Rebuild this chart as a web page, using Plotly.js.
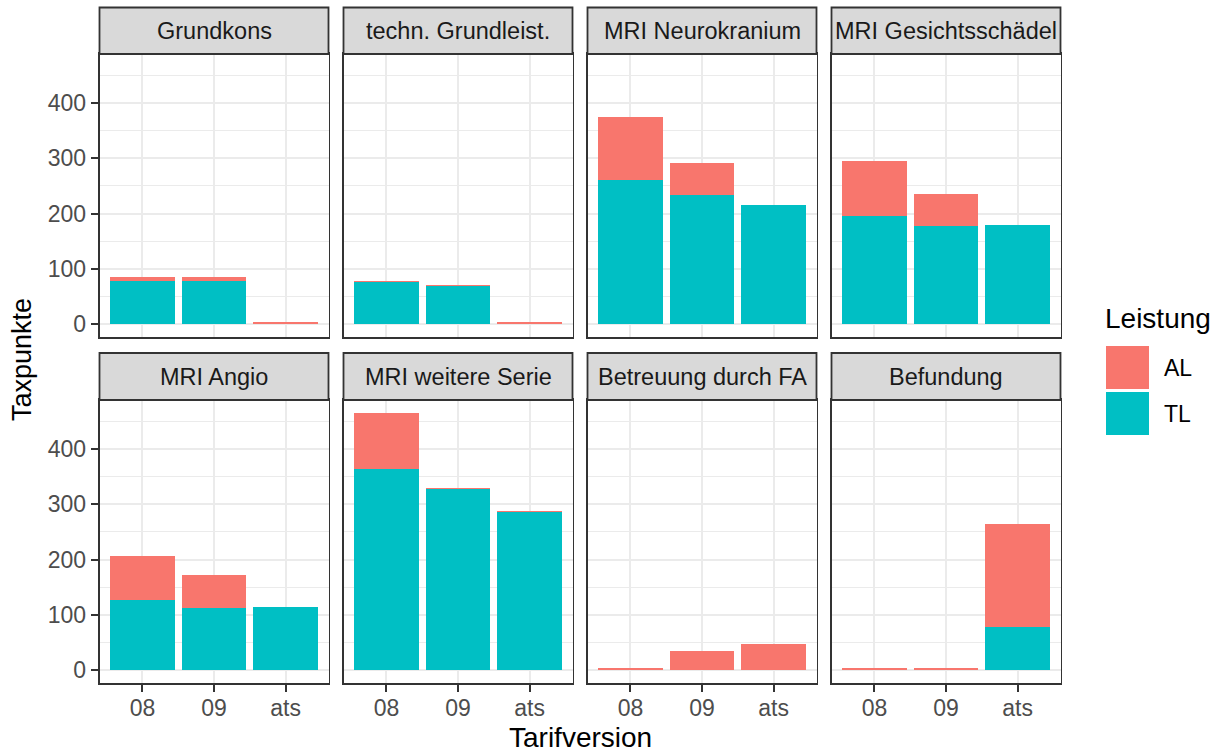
<!DOCTYPE html>
<html>
<head>
<meta charset="utf-8">
<script src="https://cdn.plot.ly/plotly-3.0.1.min.js"></script>
<style>
  html, body { margin: 0; padding: 0; background: #ffffff; }
  #chart { width: 1222px; height: 753px; }
</style>
</head>
<body>
<div id="chart"></div>
<script>
// Tariff versions on the x axis of every facet
const tarifversion = ['08', '09', 'ats'];

// Facet titles (Leistungsposition), in row-major order
const positionen = [
  'Grundkons', 'techn. Grundleist.', 'MRI Neurokranium', 'MRI Gesichtsschädel',
  'MRI Angio', 'MRI weitere Serie', 'Betreuung durch FA', 'Befundung'
];

// Taxpunkte per position and tariff version: technical part (TL)
const tlGrundkons   = [78, 78, 0];
const tlTechn       = [76, 68.5, 0];
const tlNeuro       = [260, 233, 215];
const tlGesicht     = [195, 177, 179];
const tlAngio       = [126, 113, 114];
const tlWeitere     = [364, 328, 287];
const tlBetreuung   = [0, 0, 0];
const tlBefundung   = [0, 0, 78];

// Taxpunkte per position and tariff version: medical part (AL)
const alGrundkons   = [6.5, 7, 3];
const alTechn       = [2, 2.5, 3];
const alNeuro       = [115, 59, 1.2];
const alGesicht     = [101, 59, 1.2];
const alAngio       = [81, 60, 1];
const alWeitere     = [101, 2, 1.3];
const alBetreuung   = [3, 35.5, 48];
const alBefundung   = [3, 3, 187];

const tlSeries = [tlGrundkons, tlTechn, tlNeuro, tlGesicht, tlAngio, tlWeitere, tlBetreuung, tlBefundung];
const alSeries = [alGrundkons, alTechn, alNeuro, alGesicht, alAngio, alWeitere, alBetreuung, alBefundung];

const yTicks = [0, 100, 200, 300, 400];

const COL_AL = '#F8766D';
const COL_TL = '#00BFC4';
const FONT = 'Liberation Sans, Arial, Helvetica, sans-serif';

// Page geometry (pixels)
const W = 1222, H = 753;
const panelLeft = [99.5, 343.5, 587.5, 831.5];
const panelW = 229;
const rows = [
  { stripTop: 7.5, panelTop: 54, panelBottom: 337 },
  { stripTop: 353, panelTop: 400, panelBottom: 683 }
];
const px = v => v / W;
const py = v => 1 - v / H;

const traces = [];
const layout = {
  width: W, height: H,
  margin: { l: 0, r: 0, t: 0, b: 0 },
  paper_bgcolor: '#ffffff',
  plot_bgcolor: '#ffffff',
  barmode: 'stack',
  bargap: 0.1,
  showlegend: false,
  font: { family: FONT, color: '#4D4D4D', size: 23 },
  shapes: [],
  annotations: []
};

positionen.forEach((name, i) => {
  const r = Math.floor(i / 4), c = i % 4;
  const row = rows[r];
  const n = i + 1;
  const xa = 'x' + (n === 1 ? '' : n);
  const ya = 'y' + (n === 1 ? '' : n);

  traces.push({
    type: 'bar', x: tarifversion, y: tlSeries[i], name: 'TL',
    xaxis: xa, yaxis: ya, marker: { color: COL_TL, line: { width: 0 } },
    hoverinfo: 'x+y+name'
  });
  traces.push({
    type: 'bar', x: tarifversion, y: alSeries[i], name: 'AL',
    xaxis: xa, yaxis: ya, marker: { color: COL_AL, line: { width: 0 } },
    hoverinfo: 'x+y+name'
  });

  const isBottom = r === 1;
  const isLeft = c === 0;

  layout['xaxis' + (n === 1 ? '' : n)] = {
    domain: [px(panelLeft[c]), px(panelLeft[c] + panelW)],
    anchor: ya,
    type: 'category',
    categoryorder: 'array',
    categoryarray: tarifversion,
    range: [-0.6, 2.6],
    showgrid: true, gridcolor: '#EBEBEB', gridwidth: 2,
    zeroline: false,
    showline: true, mirror: true, linecolor: '#333333', linewidth: 1.8,
    ticks: isBottom ? 'outside' : '', ticklen: 7, tickwidth: 2, tickcolor: '#333333',
    showticklabels: isBottom,
    ticklabelstandoff: -3,
    tickfont: { family: FONT, size: 23, color: '#4D4D4D' },
    automargin: false, fixedrange: true
  };
  layout['yaxis' + (n === 1 ? '' : n)] = {
    domain: [py(row.panelBottom), py(row.panelTop)],
    anchor: xa,
    range: [-23.3, 488.8],
    tickmode: 'array', tickvals: yTicks, ticktext: yTicks.map(String),
    showgrid: true, gridcolor: '#EBEBEB', gridwidth: 2,
    minor: { dtick: 50, tick0: 0, showgrid: true, gridcolor: '#EBEBEB', gridwidth: 1, ticks: '' },
    zeroline: false,
    showline: true, mirror: true, linecolor: '#333333', linewidth: 1.8,
    ticks: isLeft ? 'outside' : '', ticklen: 7, tickwidth: 2, tickcolor: '#333333',
    showticklabels: isLeft,
    tickfont: { family: FONT, size: 23, color: '#4D4D4D' },
    automargin: false, fixedrange: true
  };

  // facet strip
  layout.shapes.push({
    type: 'rect', xref: 'paper', yref: 'paper', layer: 'above',
    x0: px(panelLeft[c]), x1: px(panelLeft[c] + panelW),
    y0: py(row.panelTop), y1: py(row.stripTop),
    fillcolor: '#D9D9D9', line: { color: '#333333', width: 1.8 }
  });
  layout.annotations.push({
    xref: 'paper', yref: 'paper',
    x: px(panelLeft[c] + panelW / 2), y: py((row.stripTop + row.panelTop) / 2),
    xanchor: 'center', yanchor: 'middle', showarrow: false,
    text: name, font: { family: FONT, size: 23.5, color: '#1A1A1A' }
  });
});

// axis titles
layout.annotations.push({
  xref: 'paper', yref: 'paper', x: px(580), y: py(737),
  xanchor: 'center', yanchor: 'middle', showarrow: false,
  text: 'Tarifversion', font: { family: FONT, size: 28, color: '#000000' }
});
layout.annotations.push({
  xref: 'paper', yref: 'paper', x: px(22), y: py(360),
  xanchor: 'center', yanchor: 'middle', showarrow: false, textangle: -90,
  text: 'Taxpunkte', font: { family: FONT, size: 27, color: '#000000' }
});

// legend: Leistung
layout.annotations.push({
  xref: 'paper', yref: 'paper', x: px(1103), y: py(318),
  xanchor: 'left', yanchor: 'middle', showarrow: false,
  text: 'Leistung', font: { family: FONT, size: 28, color: '#000000' }
});
const legendItems = [
  { label: 'AL', color: COL_AL, top: 346 },
  { label: 'TL', color: COL_TL, top: 392 }
];
legendItems.forEach(it => {
  layout.shapes.push({
    type: 'rect', xref: 'paper', yref: 'paper', layer: 'above',
    x0: px(1106), x1: px(1149), y0: py(it.top + 43), y1: py(it.top),
    fillcolor: it.color, line: { width: 0 }
  });
  layout.annotations.push({
    xref: 'paper', yref: 'paper', x: px(1162), y: py(it.top + 22),
    xanchor: 'left', yanchor: 'middle', showarrow: false,
    text: it.label, font: { family: FONT, size: 23, color: '#000000' }
  });
});

Plotly.newPlot('chart', traces, layout, { displayModeBar: false, staticPlot: true });
</script>
</body>
</html>
